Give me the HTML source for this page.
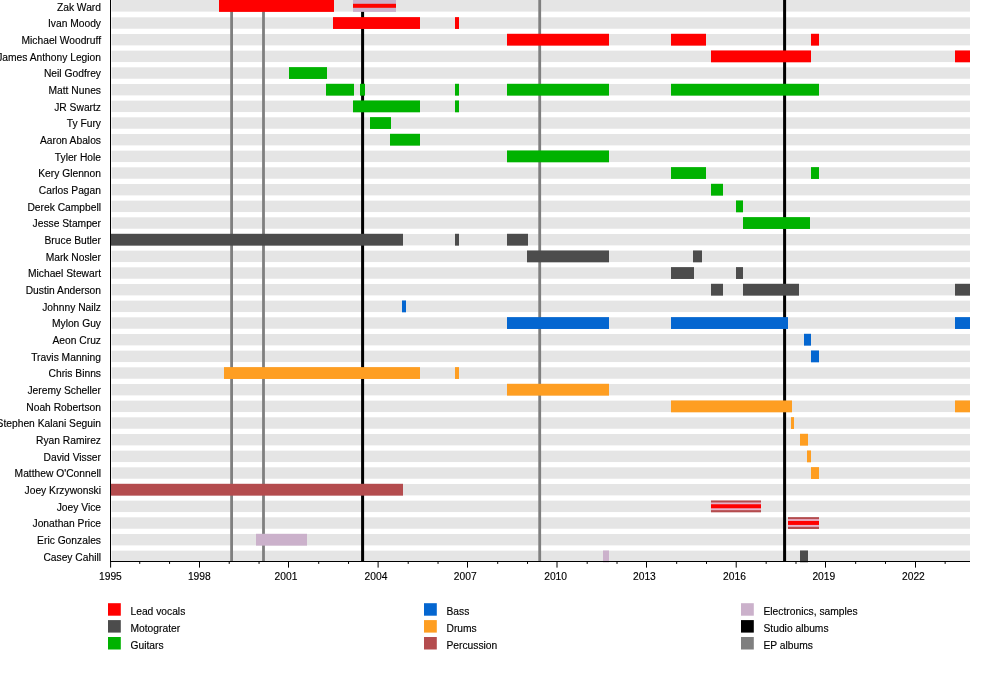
<!DOCTYPE html>
<html><head><meta charset="utf-8"><title>Motograter timeline</title>
<style>
html,body{margin:0;padding:0;background:#fff;}
body{width:1000px;height:681px;overflow:hidden;}
svg{display:block;}
text{font-family:"Liberation Sans",Arial,Helvetica,sans-serif;font-size:11px;fill:#000;stroke:#000;stroke-width:0.15px;}
</style></head><body>
<svg width="1000" height="681" viewBox="0 0 1000 681">
<rect width="1000" height="681" fill="#fff"/>
<g fill="#e5e5e5">
<rect x="111.5" y="0.00" width="858.5" height="11.60"/>
<rect x="111.5" y="17.32" width="858.5" height="11.40"/>
<rect x="111.5" y="33.98" width="858.5" height="11.40"/>
<rect x="111.5" y="50.65" width="858.5" height="11.40"/>
<rect x="111.5" y="67.32" width="858.5" height="11.40"/>
<rect x="111.5" y="83.99" width="858.5" height="11.40"/>
<rect x="111.5" y="100.65" width="858.5" height="11.40"/>
<rect x="111.5" y="117.32" width="858.5" height="11.40"/>
<rect x="111.5" y="133.99" width="858.5" height="11.40"/>
<rect x="111.5" y="150.65" width="858.5" height="11.40"/>
<rect x="111.5" y="167.32" width="858.5" height="11.40"/>
<rect x="111.5" y="183.99" width="858.5" height="11.40"/>
<rect x="111.5" y="200.65" width="858.5" height="11.40"/>
<rect x="111.5" y="217.32" width="858.5" height="11.40"/>
<rect x="111.5" y="233.99" width="858.5" height="11.40"/>
<rect x="111.5" y="250.66" width="858.5" height="11.40"/>
<rect x="111.5" y="267.32" width="858.5" height="11.40"/>
<rect x="111.5" y="283.99" width="858.5" height="11.40"/>
<rect x="111.5" y="300.66" width="858.5" height="11.40"/>
<rect x="111.5" y="317.32" width="858.5" height="11.40"/>
<rect x="111.5" y="333.99" width="858.5" height="11.40"/>
<rect x="111.5" y="350.66" width="858.5" height="11.40"/>
<rect x="111.5" y="367.32" width="858.5" height="11.40"/>
<rect x="111.5" y="383.99" width="858.5" height="11.40"/>
<rect x="111.5" y="400.66" width="858.5" height="11.40"/>
<rect x="111.5" y="417.33" width="858.5" height="11.40"/>
<rect x="111.5" y="433.99" width="858.5" height="11.40"/>
<rect x="111.5" y="450.66" width="858.5" height="11.40"/>
<rect x="111.5" y="467.33" width="858.5" height="11.40"/>
<rect x="111.5" y="483.99" width="858.5" height="11.40"/>
<rect x="111.5" y="500.66" width="858.5" height="11.40"/>
<rect x="111.5" y="517.33" width="858.5" height="11.40"/>
<rect x="111.5" y="533.99" width="858.5" height="11.40"/>
<rect x="111.5" y="550.66" width="858.5" height="11.40"/>
</g>
<g>
<rect x="230.2" y="0" width="2.8" height="561" fill="#7f7f7f"/>
<rect x="262.1" y="0" width="2.8" height="561" fill="#7f7f7f"/>
<rect x="538.3" y="0" width="2.8" height="561" fill="#7f7f7f"/>
<rect x="361.1" y="0" width="3" height="561" fill="#000"/>
<rect x="783.1" y="0" width="3" height="561" fill="#000"/>
</g>
<g>
<rect x="219" y="0.00" width="115" height="11.90" fill="#ff0000"/>
<rect x="353" y="0.00" width="43" height="11.90" fill="#cbb1cb"/>
<rect x="353" y="3.80" width="43" height="4.00" fill="#ff0000"/>
<rect x="333" y="17.12" width="87" height="11.85" fill="#ff0000"/>
<rect x="455" y="17.12" width="4" height="11.85" fill="#ff0000"/>
<rect x="507" y="33.78" width="102" height="11.85" fill="#ff0000"/>
<rect x="671" y="33.78" width="35" height="11.85" fill="#ff0000"/>
<rect x="811" y="33.78" width="8" height="11.85" fill="#ff0000"/>
<rect x="711" y="50.45" width="100" height="11.85" fill="#ff0000"/>
<rect x="955" y="50.45" width="15" height="11.85" fill="#ff0000"/>
<rect x="289" y="67.12" width="38" height="11.85" fill="#00b200"/>
<rect x="326" y="83.79" width="28" height="11.85" fill="#00b200"/>
<rect x="360" y="83.79" width="5" height="11.85" fill="#00b200"/>
<rect x="455" y="83.79" width="4" height="11.85" fill="#00b200"/>
<rect x="507" y="83.79" width="102" height="11.85" fill="#00b200"/>
<rect x="671" y="83.79" width="148" height="11.85" fill="#00b200"/>
<rect x="353" y="100.45" width="67" height="11.85" fill="#00b200"/>
<rect x="455" y="100.45" width="4" height="11.85" fill="#00b200"/>
<rect x="370" y="117.12" width="21" height="11.85" fill="#00b200"/>
<rect x="390" y="133.79" width="30" height="11.85" fill="#00b200"/>
<rect x="507" y="150.45" width="102" height="11.85" fill="#00b200"/>
<rect x="671" y="167.12" width="35" height="11.85" fill="#00b200"/>
<rect x="811" y="167.12" width="8" height="11.85" fill="#00b200"/>
<rect x="711" y="183.79" width="12" height="11.85" fill="#00b200"/>
<rect x="736" y="200.45" width="7" height="11.85" fill="#00b200"/>
<rect x="743" y="217.12" width="67" height="11.85" fill="#00b200"/>
<rect x="110" y="233.79" width="293" height="11.85" fill="#4c4c4c"/>
<rect x="455" y="233.79" width="4" height="11.85" fill="#4c4c4c"/>
<rect x="507" y="233.79" width="21" height="11.85" fill="#4c4c4c"/>
<rect x="527" y="250.46" width="82" height="11.85" fill="#4c4c4c"/>
<rect x="693" y="250.46" width="9" height="11.85" fill="#4c4c4c"/>
<rect x="671" y="267.12" width="23" height="11.85" fill="#4c4c4c"/>
<rect x="736" y="267.12" width="7" height="11.85" fill="#4c4c4c"/>
<rect x="711" y="283.79" width="12" height="11.85" fill="#4c4c4c"/>
<rect x="743" y="283.79" width="56" height="11.85" fill="#4c4c4c"/>
<rect x="955" y="283.79" width="15" height="11.85" fill="#4c4c4c"/>
<rect x="402" y="300.46" width="4" height="11.85" fill="#0466d0"/>
<rect x="507" y="317.12" width="102" height="11.85" fill="#0466d0"/>
<rect x="671" y="317.12" width="117" height="11.85" fill="#0466d0"/>
<rect x="955" y="317.12" width="15" height="11.85" fill="#0466d0"/>
<rect x="804" y="333.79" width="7" height="11.85" fill="#0466d0"/>
<rect x="811" y="350.46" width="8" height="11.85" fill="#0466d0"/>
<rect x="224" y="367.12" width="196" height="11.85" fill="#fe9e22"/>
<rect x="455" y="367.12" width="4" height="11.85" fill="#fe9e22"/>
<rect x="507" y="383.79" width="102" height="11.85" fill="#fe9e22"/>
<rect x="671" y="400.46" width="121" height="11.85" fill="#fe9e22"/>
<rect x="955" y="400.46" width="15" height="11.85" fill="#fe9e22"/>
<rect x="791" y="417.13" width="3" height="11.85" fill="#fe9e22"/>
<rect x="800" y="433.79" width="8" height="11.85" fill="#fe9e22"/>
<rect x="807" y="450.46" width="4" height="11.85" fill="#fe9e22"/>
<rect x="811" y="467.13" width="8" height="11.85" fill="#fe9e22"/>
<rect x="110" y="483.79" width="293" height="11.85" fill="#b44c4e"/>
<rect x="711" y="500.46" width="50" height="11.85" fill="#b44c4e"/>
<rect x="711" y="502.46" width="50" height="7.70" fill="#e6b2c8"/>
<rect x="711" y="504.26" width="50" height="4.00" fill="#ff0000"/>
<rect x="788" y="517.13" width="31" height="11.85" fill="#b44c4e"/>
<rect x="788" y="519.13" width="31" height="7.70" fill="#e6b2c8"/>
<rect x="788" y="520.93" width="31" height="4.00" fill="#ff0000"/>
<rect x="256" y="533.79" width="51" height="11.85" fill="#cbb1cb"/>
<rect x="603" y="550.46" width="6" height="11.85" fill="#cbb1cb"/>
<rect x="800" y="550.46" width="8" height="11.85" fill="#4c4c4c"/>
</g>
<g fill="#000">
<rect x="110" y="0" width="1" height="562"/>
<rect x="110" y="561" width="860" height="1"/>
<rect x="110.10" y="561" width="1" height="6.6"/>
<rect x="139.23" y="561" width="1" height="2.9"/>
<rect x="169.06" y="561" width="1" height="2.9"/>
<rect x="199.00" y="561" width="1" height="6.6"/>
<rect x="228.72" y="561" width="1" height="2.9"/>
<rect x="258.55" y="561" width="1" height="2.9"/>
<rect x="288.00" y="561" width="1" height="6.6"/>
<rect x="318.21" y="561" width="1" height="2.9"/>
<rect x="348.04" y="561" width="1" height="2.9"/>
<rect x="377.60" y="561" width="1" height="6.6"/>
<rect x="407.70" y="561" width="1" height="2.9"/>
<rect x="437.53" y="561" width="1" height="2.9"/>
<rect x="467.00" y="561" width="1" height="6.6"/>
<rect x="497.19" y="561" width="1" height="2.9"/>
<rect x="527.02" y="561" width="1" height="2.9"/>
<rect x="556.50" y="561" width="1" height="6.6"/>
<rect x="586.68" y="561" width="1" height="2.9"/>
<rect x="616.51" y="561" width="1" height="2.9"/>
<rect x="646.00" y="561" width="1" height="6.6"/>
<rect x="676.17" y="561" width="1" height="2.9"/>
<rect x="706.00" y="561" width="1" height="2.9"/>
<rect x="735.70" y="561" width="1" height="6.6"/>
<rect x="765.66" y="561" width="1" height="2.9"/>
<rect x="795.49" y="561" width="1" height="2.9"/>
<rect x="825.00" y="561" width="1" height="6.6"/>
<rect x="855.15" y="561" width="1" height="2.9"/>
<rect x="884.98" y="561" width="1" height="2.9"/>
<rect x="915.00" y="561" width="1" height="6.6"/>
<rect x="944.64" y="561" width="1" height="2.9"/>
</g>
<g text-anchor="middle">
<text transform="translate(110.40,580.2) scale(0.935,1)">1995</text>
<text transform="translate(199.30,580.2) scale(0.935,1)">1998</text>
<text transform="translate(286.00,580.2) scale(0.935,1)">2001</text>
<text transform="translate(376.00,580.2) scale(0.935,1)">2004</text>
<text transform="translate(465.20,580.2) scale(0.935,1)">2007</text>
<text transform="translate(555.60,580.2) scale(0.935,1)">2010</text>
<text transform="translate(644.40,580.2) scale(0.935,1)">2013</text>
<text transform="translate(734.50,580.2) scale(0.935,1)">2016</text>
<text transform="translate(823.80,580.2) scale(0.935,1)">2019</text>
<text transform="translate(913.40,580.2) scale(0.935,1)">2022</text>
</g>
<g text-anchor="end">
<text transform="translate(101.0,10.70) scale(0.935,1)">Zak Ward</text>
<text transform="translate(101.0,27.37) scale(0.935,1)">Ivan Moody</text>
<text transform="translate(101.0,44.03) scale(0.935,1)">Michael Woodruff</text>
<text transform="translate(101.0,60.70) scale(0.935,1)">James Anthony Legion</text>
<text transform="translate(101.0,77.37) scale(0.935,1)">Neil Godfrey</text>
<text transform="translate(101.0,94.04) scale(0.935,1)">Matt Nunes</text>
<text transform="translate(101.0,110.70) scale(0.935,1)">JR Swartz</text>
<text transform="translate(101.0,127.37) scale(0.935,1)">Ty Fury</text>
<text transform="translate(101.0,144.04) scale(0.935,1)">Aaron Abalos</text>
<text transform="translate(101.0,160.70) scale(0.935,1)">Tyler Hole</text>
<text transform="translate(101.0,177.37) scale(0.935,1)">Kery Glennon</text>
<text transform="translate(101.0,194.04) scale(0.935,1)">Carlos Pagan</text>
<text transform="translate(101.0,210.70) scale(0.935,1)">Derek Campbell</text>
<text transform="translate(101.0,227.37) scale(0.935,1)">Jesse Stamper</text>
<text transform="translate(101.0,244.04) scale(0.935,1)">Bruce Butler</text>
<text transform="translate(101.0,260.71) scale(0.935,1)">Mark Nosler</text>
<text transform="translate(101.0,277.37) scale(0.935,1)">Michael Stewart</text>
<text transform="translate(101.0,294.04) scale(0.935,1)">Dustin Anderson</text>
<text transform="translate(101.0,310.71) scale(0.935,1)">Johnny Nailz</text>
<text transform="translate(101.0,327.37) scale(0.935,1)">Mylon Guy</text>
<text transform="translate(101.0,344.04) scale(0.935,1)">Aeon Cruz</text>
<text transform="translate(101.0,360.71) scale(0.935,1)">Travis Manning</text>
<text transform="translate(101.0,377.37) scale(0.935,1)">Chris Binns</text>
<text transform="translate(101.0,394.04) scale(0.935,1)">Jeremy Scheller</text>
<text transform="translate(101.0,410.71) scale(0.935,1)">Noah Robertson</text>
<text transform="translate(101.0,427.38) scale(0.935,1)">Stephen Kalani Seguin</text>
<text transform="translate(101.0,444.04) scale(0.935,1)">Ryan Ramirez</text>
<text transform="translate(101.0,460.71) scale(0.935,1)">David Visser</text>
<text transform="translate(101.0,477.38) scale(0.935,1)">Matthew O&#39;Connell</text>
<text transform="translate(101.0,494.04) scale(0.935,1)">Joey Krzywonski</text>
<text transform="translate(101.0,510.71) scale(0.935,1)">Joey Vice</text>
<text transform="translate(101.0,527.38) scale(0.935,1)">Jonathan Price</text>
<text transform="translate(101.0,544.04) scale(0.935,1)">Eric Gonzales</text>
<text transform="translate(101.0,560.71) scale(0.935,1)">Casey Cahill</text>
</g>
<g>
<rect x="108" y="603.20" width="12.8" height="12.5" fill="#ff0000"/>
<text transform="translate(130.5,615.00) scale(0.935,1)">Lead vocals</text>
<rect x="108" y="620.10" width="12.8" height="12.5" fill="#4c4c4c"/>
<text transform="translate(130.5,631.90) scale(0.935,1)">Motograter</text>
<rect x="108" y="637.00" width="12.8" height="12.5" fill="#00b200"/>
<text transform="translate(130.5,648.80) scale(0.935,1)">Guitars</text>
<rect x="424" y="603.20" width="12.8" height="12.5" fill="#0466d0"/>
<text transform="translate(446.5,615.00) scale(0.935,1)">Bass</text>
<rect x="424" y="620.10" width="12.8" height="12.5" fill="#fe9e22"/>
<text transform="translate(446.5,631.90) scale(0.935,1)">Drums</text>
<rect x="424" y="637.00" width="12.8" height="12.5" fill="#b44c4e"/>
<text transform="translate(446.5,648.80) scale(0.935,1)">Percussion</text>
<rect x="741" y="603.20" width="12.8" height="12.5" fill="#cbb1cb"/>
<text transform="translate(763.5,615.00) scale(0.935,1)">Electronics, samples</text>
<rect x="741" y="620.10" width="12.8" height="12.5" fill="#000"/>
<text transform="translate(763.5,631.90) scale(0.935,1)">Studio albums</text>
<rect x="741" y="637.00" width="12.8" height="12.5" fill="#7f7f7f"/>
<text transform="translate(763.5,648.80) scale(0.935,1)">EP albums</text>
</g>
</svg>
</body></html>
